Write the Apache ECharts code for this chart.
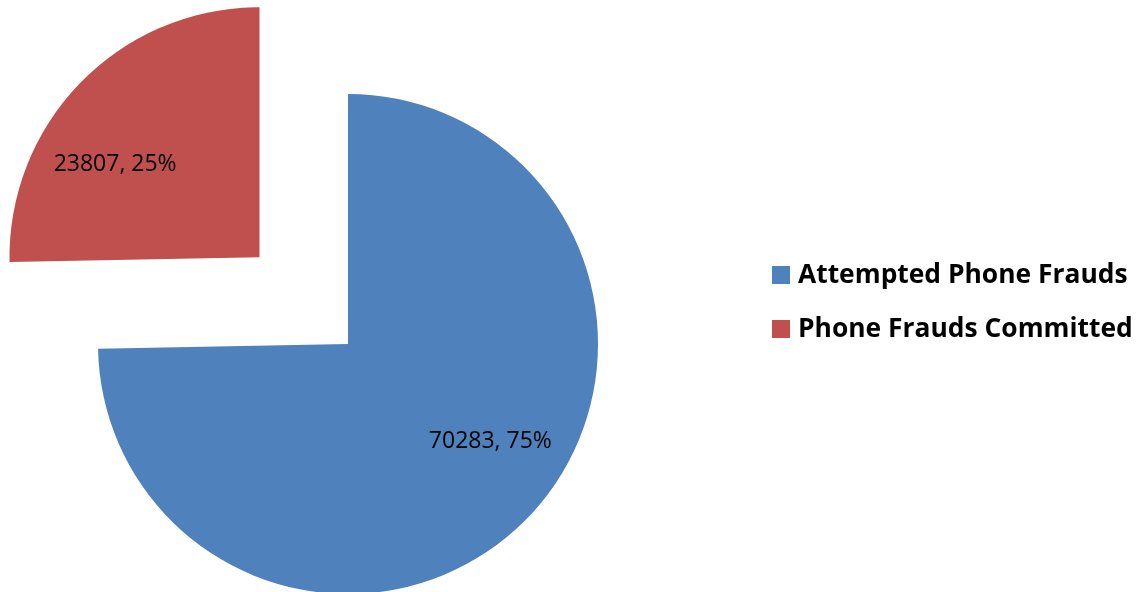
<!DOCTYPE html>
<html>
<head>
<meta charset="utf-8">
<script src="https://cdn.jsdelivr.net/npm/echarts@6/dist/echarts.min.js"></script>
<style>
html,body{margin:0;padding:0;background:#fff;}
#chart{width:1145px;height:592px;}
</style>
</head>
<body>
<div id="chart"></div>
<script>
const categories = ['Attempted Phone Frauds', 'Phone Frauds Committed'];
const values = [70283, 23807];
const colors = ['#4F81BD', '#C0504D'];
const explodedIndex = 1;

const chart = echarts.init(document.getElementById('chart'), null, {renderer: 'canvas'});
const labelOffsets = [[51, 8], [-53, -3]];
chart.setOption({
  animation: false,
  backgroundColor: '#ffffff',
  legend: {
    orient: 'vertical',
    left: 772,
    top: 262,
    padding: 0,
    itemWidth: 18,
    itemHeight: 18,
    itemGap: 28,
    icon: 'rect',
    selectedMode: false,
    data: categories,
    textStyle: {
      fontFamily: 'Open Sans',
      fontWeight: 'bold',
      fontSize: 26.4,
      color: '#000',
      lineHeight: 26,
      padding: [0, 0, 0, 3]
    }
  },
  series: [{
    type: 'pie',
    center: [348, 344],
    radius: [0, 250],
    startAngle: 90,
    clockwise: true,
    selectedMode: 'single',
    selectedOffset: 124,
    percentPrecision: 0,
    avoidLabelOverlap: false,
    emphasis: {scale: false, disabled: true},
    label: {
      show: true,
      position: 'inside',
      formatter: '{c}, {d}%',
      fontFamily: 'Open Sans',
      fontSize: 23,
      color: '#000'
    },
    labelLine: {show: false},
    data: categories.map((name, i) => ({
      name: name,
      value: values[i],
      selected: i === explodedIndex,
      itemStyle: {color: colors[i]},
      label: {offset: labelOffsets[i]},
      select: {label: {offset: labelOffsets[i]}}
    }))
  }]
});
</script>
</body>
</html>
